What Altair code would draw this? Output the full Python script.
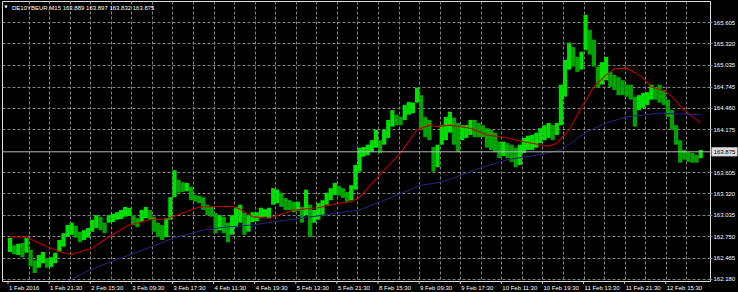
import altair as alt
import pandas as pd

# ---------------- data ----------------
symbol = "DE10YBEUR"
timeframe = "M15"
ohlc = ["163.889", "163.897", "163.832", "163.875"]
last_price = 163.875

highs = [162.73, 162.63, 162.65, 162.66, 162.73, 162.57, 162.43, 162.50, 162.54, 162.46,
         162.47, 162.53, 162.70, 162.79, 162.90, 162.93, 162.89, 162.81, 162.83, 162.86,
         162.97, 163.03, 163.01, 162.93, 163.03, 163.05, 163.07, 163.10, 163.14, 163.13,
         163.03, 162.99, 163.10, 163.14, 163.10, 163.01, 162.93, 162.90, 162.99, 163.27,
         163.63, 163.50, 163.47, 163.46, 163.41, 163.30, 163.29, 163.27, 163.17, 163.14,
         163.06, 163.03, 163.01, 162.93, 163.03, 163.14, 163.17, 163.06, 163.03, 163.07,
         163.07, 163.13, 163.11, 163.13, 163.39, 163.37, 163.33, 163.26, 163.23, 163.21,
         163.21, 163.14, 163.37, 163.17, 163.10, 163.19, 163.23, 163.33, 163.39, 163.46,
         163.42, 163.39, 163.34, 163.43, 163.70, 163.93, 163.94, 163.97, 164.03, 164.17,
         164.03, 164.17, 164.30, 164.43, 164.37, 164.34, 164.50, 164.54, 164.53, 164.73,
         164.63, 164.34, 164.30, 163.94, 163.97, 164.23, 164.34, 164.41, 164.33, 164.26,
         164.23, 164.23, 164.30, 164.30, 164.26, 164.23, 164.19, 164.17, 164.13, 164.01,
         164.01, 163.99, 163.97, 163.93, 163.97, 164.06, 164.09, 164.10, 164.13, 164.19,
         164.23, 164.26, 164.23, 164.26, 164.77, 165.10, 165.33, 165.27, 165.14, 165.21,
         165.70, 165.50, 165.37, 165.01, 165.07, 165.14, 164.94, 164.90, 164.87, 164.83,
         164.77, 164.77, 164.61, 164.63, 164.66, 164.67, 164.77, 164.74, 164.77, 164.70,
         164.57, 164.43, 164.23, 164.03, 163.90, 163.87, 163.86, 163.83, 163.90]

lows = [162.54, 162.51, 162.50, 162.47, 162.53, 162.35, 162.26, 162.33, 162.39, 162.33,
        162.34, 162.39, 162.54, 162.61, 162.74, 162.77, 162.73, 162.67, 162.70, 162.73,
        162.81, 162.86, 162.83, 162.79, 162.93, 162.94, 162.97, 162.98, 163.01, 163.02,
        162.90, 162.87, 162.94, 162.99, 162.97, 162.81, 162.74, 162.70, 162.74, 162.97,
        163.27, 163.33, 163.34, 163.35, 163.23, 163.21, 163.19, 163.10, 163.03, 163.01,
        162.79, 162.83, 162.79, 162.67, 162.77, 162.87, 162.93, 162.77, 162.81, 162.94,
        162.95, 162.99, 163.01, 162.99, 163.17, 163.19, 163.14, 163.10, 163.10, 163.07,
        163.09, 162.93, 163.03, 162.74, 162.93, 162.97, 163.03, 163.17, 163.23, 163.30,
        163.29, 163.26, 163.21, 163.23, 163.37, 163.61, 163.81, 163.83, 163.87, 163.93,
        163.86, 163.97, 164.06, 164.21, 164.23, 164.23, 164.30, 164.37, 164.39, 164.53,
        164.17, 164.07, 164.03, 163.61, 163.67, 163.97, 164.03, 164.13, 163.97, 163.87,
        164.03, 164.06, 164.10, 164.07, 164.07, 164.07, 163.93, 163.90, 163.87, 163.79,
        163.82, 163.79, 163.74, 163.67, 163.70, 163.86, 163.90, 163.90, 163.93, 163.99,
        164.03, 164.06, 164.03, 164.10, 164.23, 164.61, 164.97, 165.01, 164.94, 164.97,
        165.23, 165.17, 165.01, 164.73, 164.77, 164.83, 164.74, 164.70, 164.63, 164.63,
        164.61, 164.57, 164.21, 164.43, 164.46, 164.50, 164.57, 164.57, 164.53, 164.50,
        164.34, 164.17, 163.97, 163.73, 163.77, 163.74, 163.73, 163.73, 163.79]

red_idx = [0, 4, 7, 9, 13, 15, 20, 24, 29, 34, 38, 42, 46, 54, 56, 59, 63, 69, 75, 80,
           83, 85, 90, 95, 99, 102, 104, 107, 112, 116, 120, 125, 128, 131, 133, 136, 139,
           142, 145, 147, 150, 152, 154, 156, 159, 161, 164, 168]
red_vals = [162.74, 162.74, 162.66, 162.61, 162.53, 162.51, 162.59, 162.74, 162.90, 162.97,
            162.98, 163.06, 163.14, 163.15, 163.11, 163.01, 162.99, 163.10, 163.13, 163.19,
            163.21, 163.27, 163.57, 163.86, 164.17, 164.23, 164.21, 164.23, 164.19, 164.10,
            164.07, 164.01, 163.98, 163.95, 163.99, 164.17, 164.47, 164.74, 164.90, 164.98,
            164.99, 164.93, 164.86, 164.74, 164.69, 164.61, 164.43, 164.26]

blue_idx = [14, 19, 25, 33, 40, 47, 52, 59, 68, 76, 85, 92, 100, 105, 115, 121, 128, 134,
            140, 145, 150, 158, 168]
blue_vals = [162.15, 162.29, 162.42, 162.58, 162.73, 162.83, 162.87, 162.90, 162.97, 163.03,
             163.10, 163.25, 163.43, 163.47, 163.67, 163.77, 163.83, 163.90, 164.13, 164.26,
             164.34, 164.39, 164.37]

date_labels = ["1 Feb 2016", "1 Feb 21:30", "2 Feb 15:30", "3 Feb 09:30", "3 Feb 17:30",
               "4 Feb 11:30", "4 Feb 19:30", "5 Feb 13:30", "5 Feb 21:30", "8 Feb 15:30",
               "9 Feb 09:30", "9 Feb 17:30", "10 Feb 11:30", "10 Feb 19:30", "11 Feb 13:30",
               "11 Feb 21:30", "12 Feb 15:30"]
date_pos = [-0.5 + 10 * k for k in range(len(date_labels))]   # bar index of each label
grid_pos = [-0.5 + 5 * m for m in range(1, 34)]                 # vertical grid every half label

price_ticks = [162.180, 162.465, 162.750, 163.035, 163.320, 163.605,
               164.175, 164.460, 164.745, 165.035, 165.320, 165.605]

# ---------------- tables ----------------
bars = pd.DataFrame({"i": list(range(len(highs))), "high": highs, "low": lows})
mid = [(h + l) / 2 for h, l in zip(highs, lows)]
bars["dir"] = ["up" if k == 0 or mid[k] >= mid[k - 1] else "down" for k in range(len(mid))]
red_df = pd.DataFrame({"i": red_idx, "v": red_vals})
blue_df = pd.DataFrame({"i": blue_idx, "v": blue_vals})
dates_df = pd.DataFrame({"i": date_pos, "label": date_labels})
last_df = pd.DataFrame({"p": [last_price], "label": [f"{last_price:.3f}"]})
title_df = pd.DataFrame({"t": [f"{symbol},{timeframe} " + " ".join(ohlc)]})

FONT = "Liberation Sans"
GRID = "#858585"

xscale = alt.Scale(domain=[-0.743, 169.04], nice=False, zero=False)
yscale = alt.Scale(domain=[162.153, 165.885], nice=False, zero=False)

xaxis = alt.Axis(values=grid_pos, grid=True, gridColor=GRID, gridDash=[3, 2], gridWidth=1,
                 labels=False, ticks=False, domain=False, title=None)
yaxis = alt.Axis(orient="right", values=price_ticks, format=".3f", grid=True, gridColor=GRID,
                 gridDash=[3, 2], gridWidth=1, ticks=True, tickSize=2, tickColor=GRID,
                 labelPadding=1, labelColor="#ffffff", labelFont=FONT, labelFontSize=6,
                 labelBaseline="middle", labelOverlap=False, labelFlush=False,
                 domain=False, title=None)

X = lambda f: alt.X(f, scale=xscale, axis=xaxis)
Y = lambda f: alt.Y(f, scale=yscale, axis=yaxis)

price = alt.Chart(bars).mark_bar(size=4.2).encode(
    x=X("i:Q"),
    y=Y("high:Q"),
    y2="low:Q",
    color=alt.Color("dir:N", scale=alt.Scale(domain=["up", "down"], range=["#00e000", "#00a400"]),
                    legend=None),
)

red = alt.Chart(red_df).mark_line(color="#c00000", strokeWidth=1.1, clip=True).encode(
    x=X("i:Q"), y=Y("v:Q"))
blue = alt.Chart(blue_df).mark_line(color="#26267c", strokeWidth=1, clip=True).encode(
    x=X("i:Q"), y=Y("v:Q"))

bid = alt.Chart(last_df).mark_rule(color="#b8b8b8", strokeWidth=1).encode(y=Y("p:Q"))

box = alt.Chart(last_df).mark_point(
    shape="M-1,-0.35L1,-0.35L1,0.35L-1,0.35Z", size=676, filled=True,
    color="#dcdcdc", opacity=1).encode(x=alt.value(722.5), y=Y("p:Q"))
box_text = alt.Chart(last_df).mark_text(font=FONT, fontSize=6, color="#000000",
                                        align="center", baseline="middle").encode(
    x=alt.value(722.5), y=Y("p:Q"), text="label:N")

date_ticks = alt.Chart(dates_df).mark_rule(color="#c8c8c8").encode(
    x=X("i:Q"), y=alt.value(280), y2=alt.value(283))
date_text = alt.Chart(dates_df).mark_text(font=FONT, fontSize=6, color="#ffffff",
                                          align="left", baseline="middle", dx=1).encode(
    x=X("i:Q"), y=alt.value(286.5), text="label:N")

tri = alt.Chart(title_df).mark_point(shape="triangle-down", size=12, filled=True,
                                     color="#ffffff", opacity=1).encode(
    x=alt.value(4), y=alt.value(6))
title = alt.Chart(title_df).mark_text(font=FONT, fontSize=6, color="#ffffff",
                                      align="left", baseline="middle").encode(
    x=alt.value(10), y=alt.value(6.5), text="t:N")

chart = alt.layer(price, red, blue, bid, box, box_text, date_ticks, date_text, tri, title).properties(
    width=708, height=280,
    padding={"left": 2, "top": 1, "right": 28, "bottom": 11},
    autosize=alt.AutoSizeParams(type="none"),
    background="#000000",
).configure_view(stroke="#e0e0e0", strokeWidth=1)

chart.save("out.html", embed_options={"renderer": "svg", "actions": False})
